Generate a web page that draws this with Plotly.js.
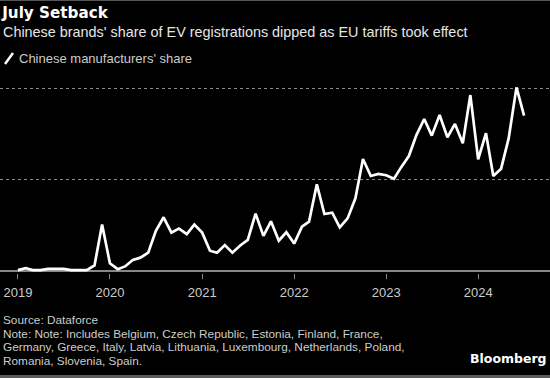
<!DOCTYPE html>
<html>
<head>
<meta charset="utf-8">
<script src="https://cdn.plot.ly/plotly-3.0.1.min.js"></script>
<style>
html,body{margin:0;padding:0;background:#000;}
#chart{width:550px;height:378px;}
</style>
</head>
<body>
<div id="chart"></div>
<script>
// Monthly dates Jan 2019 - Jul 2024
const startYear = 2019;
const months = [];
for (let i = 0; i < 67; i++) {
  const y = startYear + Math.floor(i / 12);
  const m = (i % 12) + 1;
  months.push(y + '-' + String(m).padStart(2, '0') + '-01');
}
// Chinese manufacturers' share of EV registrations (%)
const share = [
  0.05, 0.15, 0.05, 0.05, 0.12, 0.12, 0.12, 0.05, 0.05, 0.05, 0.30, 2.55,
  0.42, 0.10, 0.25, 0.60, 0.73, 1.00, 2.19, 2.94, 2.10, 2.32, 2.02, 2.54,
  2.10, 1.11, 1.00, 1.42, 1.00, 1.40, 1.70, 3.14, 1.92, 2.72, 1.66, 2.12,
  1.50, 2.43, 2.70, 4.74, 3.12, 3.19, 2.39, 2.88, 3.98, 6.13, 5.20, 5.31,
  5.24, 5.05, 5.67, 6.29, 7.44, 8.32, 7.41, 8.54, 7.32, 8.05, 6.99, 9.63,
  6.11, 7.54, 5.20, 5.60, 7.26, 10.05, 8.50
];
const yearTicks = ['2019-01-01','2020-01-01','2021-01-01','2022-01-01','2023-01-01','2024-01-01'];
const yearLabels = ['2019','2020','2021','2022','2023','2024'];
const gridVals = [5, 10];

const titleText = 'July Setback';
const subtitleText = "Chinese brands' share of EV registrations dipped as EU tariffs took effect";
const legendText = "Chinese manufacturers' share";
const sourceLines = [
  'Source: Dataforce',
  'Note: Note: Includes Belgium, Czech Republic, Estonia, Finland, France,',
  'Germany, Greece, Italy, Latvia, Lithuania, Luxembourg, Netherlands, Poland,',
  'Romania, Slovenia, Spain.'
];
const brandText = 'Bloomberg';

const FONT = 'Liberation Sans, Arial, sans-serif';
const plotTop = 75, plotBottom = 273, H = 378;
const ph = plotBottom - plotTop;
function py(px) { return (plotBottom - px) / ph; } // pixel y -> paper y

const trace = {
  x: months, y: share, type: 'scatter', mode: 'lines',
  line: {color: '#ffffff', width: 2.7},
  hoverinfo: 'skip', showlegend: false
};

const annotations = [
  {text: subtitleText, xref: 'paper', yref: 'paper', x: 0.002, y: py(32),
   xanchor: 'left', yanchor: 'middle', showarrow: false,
   font: {family: FONT, size: 14.4, color: '#e6e6e6'}},
  {text: legendText, xref: 'paper', yref: 'paper', x: 17 / 550, y: py(58),
   xanchor: 'left', yanchor: 'middle', showarrow: false,
   font: {family: FONT, size: 13, color: '#cccccc'}},
  {text: '<b>' + brandText + '</b>', xref: 'paper', yref: 'paper', x: 549 / 550, y: py(358),
   xanchor: 'right', yanchor: 'middle', showarrow: false,
   font: {family: 'DejaVu Sans, ' + FONT, size: 12.5, color: '#ffffff'}}
];
const lineY = [320, 333.5, 347, 361];
sourceLines.forEach((t, i) => annotations.push({
  text: t, xref: 'paper', yref: 'paper', x: 0.002, y: py(lineY[i]),
  xanchor: 'left', yanchor: 'middle', showarrow: false,
  font: {family: FONT, size: 11.8, color: '#cccccc'}
}));

const layout = {
  width: 550, height: 378,
  paper_bgcolor: '#000', plot_bgcolor: '#000',
  margin: {l: 0, r: 0, t: plotTop, b: H - plotBottom, pad: 0},
  showlegend: false,
  font: {family: FONT, color: '#cccccc'},
  title: {
    text: '<b>' + titleText + '</b>',
    x: 0.004, xanchor: 'left', xref: 'paper',
    y: 1 - 13 / H, yanchor: 'middle', yref: 'container',
    font: {family: 'DejaVu Sans, ' + FONT, size: 15.2, color: '#ffffff'}
  },
  xaxis: {
    type: 'date',
    range: ['2018-10-22', '2024-10-12'],
    tickvals: yearTicks, ticktext: yearLabels,
    ticks: 'outside', ticklen: 5, tickcolor: '#888', tickwidth: 1,
    ticklabelstandoff: 2,
    showgrid: false, zeroline: false, showline: false,
    tickfont: {family: FONT, size: 13, color: '#cccccc'},
    fixedrange: true
  },
  yaxis: {
    range: [-(plotBottom - 271) / 18.27, (271 - plotTop) / 18.27],
    tickvals: gridVals, showticklabels: false,
    showgrid: true, gridcolor: '#8a8a8a', griddash: 'dot', gridwidth: 1,
    zeroline: true, zerolinecolor: '#888', zerolinewidth: 1.2,
    showline: false, ticks: '', fixedrange: true
  },
  shapes: [
    {type: 'line', xref: 'paper', yref: 'paper', x0: 5 / 550, x1: 13 / 550, y0: py(64), y1: py(53),
     line: {color: '#ffffff', width: 2.5}},
    {type: 'rect', xref: 'paper', yref: 'paper', x0: 0, x1: 1, y0: py(1), y1: py(0),
     line: {width: 0}, fillcolor: '#555'},
    {type: 'rect', xref: 'paper', yref: 'paper', x0: 0, x1: 1, y0: py(378), y1: py(375),
     line: {width: 0}, fillcolor: '#5a5a5a'}
  ],
  annotations: annotations
};

Plotly.newPlot('chart', [trace], layout, {displayModeBar: false, staticPlot: true});
</script>
</body>
</html>
